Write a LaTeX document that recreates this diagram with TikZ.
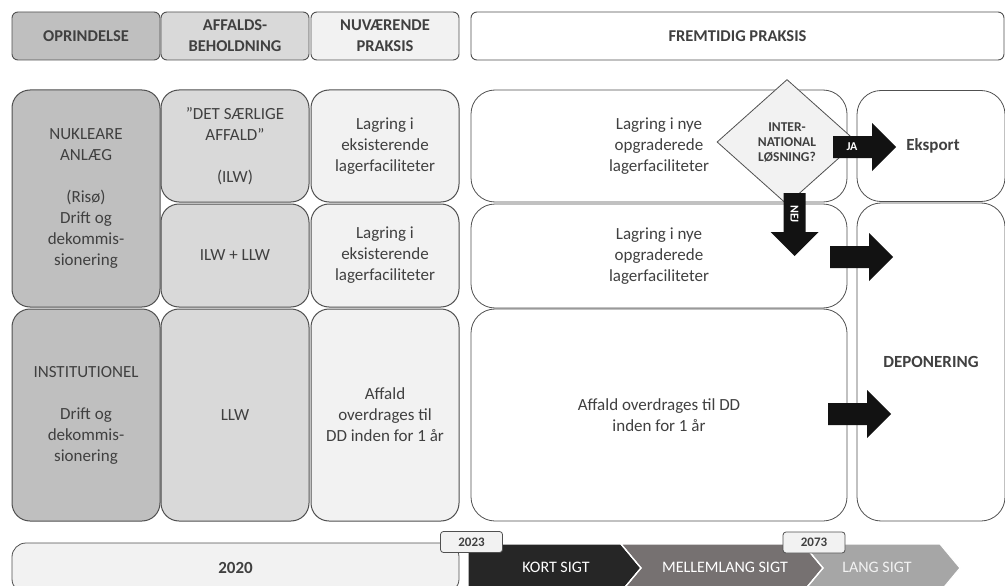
\documentclass[tikz,border=0pt]{standalone}
\usepackage{fontspec}
\setmainfont{Carlito}
\usepackage{tikz}
\usetikzlibrary{shapes.geometric}
\definecolor{origgray}{RGB}{191,191,191}
\definecolor{wastegray}{RGB}{217,217,217}
\definecolor{nowgray}{RGB}{242,242,242}
\definecolor{txtgray}{RGB}{64,64,64}
\definecolor{edgegray}{RGB}{80,80,80}
\definecolor{phaseA}{RGB}{38,38,38}
\definecolor{phaseB}{RGB}{118,113,113}
\definecolor{phaseC}{RGB}{166,166,166}
\newcommand{\bodyfont}{\fontsize{17}{21}\selectfont}
\newcommand{\hdrfont}{\fontsize{16.5}{21}\selectfont\bfseries}
\tikzset{
  hdrbox/.style ={rectangle, rounded corners=6pt, draw=edgegray, line width=0.9pt,
                  minimum width=148pt, minimum height=48pt, inner sep=0pt,
                  align=center, font=\hdrfont, text=txtgray},
  origbox/.style={rectangle, rounded corners=18pt, draw=edgegray, line width=1pt,
                  fill=origgray, minimum width=148pt, inner sep=0pt,
                  align=center, font=\bodyfont, text=txtgray},
  wastebox/.style={origbox, fill=wastegray},
  nowbox/.style  ={origbox, fill=nowgray},
  futbox/.style  ={origbox, fill=white, rounded corners=24pt, line width=0.8pt},
  decision/.style={diamond, draw=edgegray, line width=0.8pt, fill=nowgray,
                   minimum width=140pt, minimum height=125pt, inner sep=0pt,
                   align=center, text=txtgray,
                   font=\fontsize{13.5}{15}\selectfont\bfseries},
  arrowlbl/.style={text=white, font=\fontsize{12}{13}\selectfont\bfseries, inner sep=0pt},
  phase/.style   ={draw=white, line width=1.2pt},
  phaselbl/.style={text=white, font=\fontsize{16}{19}\selectfont, inner sep=0pt},
  yeartab/.style ={rectangle, rounded corners=3pt, draw=edgegray, line width=0.8pt,
                   fill=nowgray, minimum width=62pt, minimum height=21pt, inner sep=0pt,
                   text=txtgray, font=\fontsize{13}{15}\selectfont\bfseries},
  pics/blockarrow/.style={code={
    \fill[black!93] (0,-11) -- (39,-11) -- (39,-24) -- (63,0) -- (39,24) -- (39,11) -- (0,11) -- cycle;}},
}
\begin{document}
\begin{tikzpicture}[x=1pt,y=-1pt]
\useasboundingbox (0,0) rectangle (1005,586);
% column headers
\node[hdrbox, fill=origgray]  (hOrig) at (86,36)  {OPRINDELSE};
\node[hdrbox, fill=wastegray] (hWaste) at (235,36) {AFFALDS-\\BEHOLDNING};
\node[hdrbox, fill=nowgray]   (hNow) at (385,36)  {NUVÆRENDE\\PRAKSIS};
\node[hdrbox, fill=white, minimum width=533pt] (hFut) at (737.5,36) {FREMTIDIG PRAKSIS};
% origin
\node[origbox, minimum height=217pt] (nuk) at (86,198.5)
  {NUKLEARE\\ANLÆG\\[21pt](Risø)\\Drift og\\dekommis-\\sionering};
\node[origbox, minimum height=212pt] (inst) at (86,415)
  {INSTITUTIONEL\\[21pt]Drift og\\dekommis-\\sionering};
% waste inventory
\node[wastebox, minimum height=112pt] (ilw) at (235,146) {”DET SÆRLIGE\\AFFALD”\\[21pt](ILW)};
\node[wastebox, minimum height=103pt] (ilwllw) at (235,255.5) {ILW + LLW};
\node[wastebox, minimum height=212pt] (llw) at (235,415) {LLW};
% current practice
\node[nowbox, minimum height=112pt] (now1) at (385,146) {Lagring i\\eksisterende\\lagerfaciliteter};
\node[nowbox, minimum height=103pt] (now2) at (385,255.5) {Lagring i\\eksisterende\\lagerfaciliteter};
\node[nowbox, minimum height=212pt] (now3) at (385,415) {Affald\\overdrages til\\DD inden for 1 år};
% future practice
\node[futbox, minimum width=376pt, minimum height=112pt] (fut1) at (659,146)
  {Lagring i nye\\opgraderede\\lagerfaciliteter};
\node[futbox, minimum width=376pt, minimum height=104pt] (fut2) at (659,256)
  {Lagring i nye\\opgraderede\\lagerfaciliteter};
\node[futbox, minimum width=376pt, minimum height=212pt] (fut3) at (659,415)
  {Affald overdrages til DD\\inden for 1 år};
\node[futbox, minimum height=111pt, font=\bodyfont\bfseries] (eksport) at (931,146) {\hspace*{4pt}Eksport};
\node[futbox, minimum height=318pt, font=\bodyfont\bfseries] (depon) at (931,362) {DEPONERING};
\node[decision] (intl) at (787,142) {INTER-\\NATIONAL\\LØSNING?};
% block arrows
\pic at (833,147) {blockarrow};
\node[arrowlbl] (ja) at (852,147) {JA};
\pic[rotate=-90] at (794.5,193) {blockarrow};
\node[arrowlbl, rotate=-90] (nej) at (794.5,214) {NEJ};
\pic at (830,257) {blockarrow};
\pic at (828,414) {blockarrow};
% time line
\node[rectangle, rounded corners=14pt, draw=edgegray, line width=0.8pt, fill=nowgray,
      minimum width=447pt, minimum height=50pt, inner sep=0pt,
      text=txtgray, font=\bodyfont\bfseries] (y2020) at (235.5,568) {2020};
\fill[phase, fill=phaseA] (468,544) -- (621,544) -- (641,568) -- (621,592) -- (468,592) -- cycle;
\fill[phase, fill=phaseB] (621,544) -- (803,544) -- (823,568) -- (803,592) -- (621,592) -- (641,568) -- cycle;
\fill[phase, fill=phaseC] (803,544) -- (940,544) -- (960,568) -- (940,592) -- (803,592) -- (823,568) -- cycle;
\draw[phase] (621,544) -- (641,568) -- (621,592);
\draw[phase] (803,544) -- (823,568) -- (803,592);
\node[phaselbl] (kort) at (556,567) {KORT SIGT};
\node[phaselbl] (mellem) at (725,567) {MELLEMLANG SIGT};
\node[phaselbl, text=nowgray] (lang) at (877,567) {LANG SIGT};
\node[yeartab] (y2023) at (471.5,542) {2023};
\node[yeartab] (y2073) at (814,542.5) {2073};
\end{tikzpicture}
\end{document}
